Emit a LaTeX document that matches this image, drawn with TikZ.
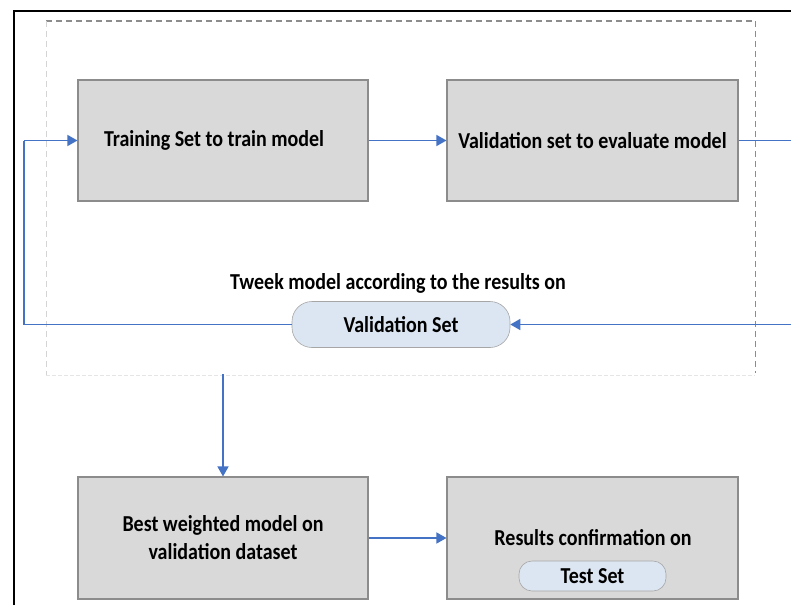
\documentclass[tikz,border=0pt]{standalone}
\usepackage{fontspec}
\usepackage{graphicx}
\setmainfont{Carlito}
\usetikzlibrary{arrows.meta}
\definecolor{flowblue}{HTML}{4472C4}
\definecolor{boxfill}{HTML}{D9D9D9}
\definecolor{boxline}{HTML}{8C8C8C}
\definecolor{pillfill}{HTML}{DCE6F2}
\definecolor{dashdark}{HTML}{8C8C8C}
\definecolor{dashlight}{HTML}{D4D4D4}
\newcommand{\tall}[1]{\scalebox{1}[1.14]{#1}}
\begin{document}
\begin{tikzpicture}[x=1pt,y=-1pt,
  txt/.style={font=\fontsize{20}{28}\selectfont\bfseries, text=black, inner sep=0pt},
  procbox/.style={draw=boxline, fill=boxfill, line width=1.1pt, minimum width=290pt, minimum height=121pt, inner sep=0pt, txt},
  pill/.style={draw=gray!70, fill=pillfill, line width=0.6pt, rounded corners=16pt, inner sep=0pt, txt},
  flow/.style={draw=flowblue, line width=1.4pt},
  arr/.style={flow, -{Triangle[length=10pt,width=11pt]}}
]
\useasboundingbox (0,0) rectangle (791,605);
\fill[white] (0,0) rectangle (791,605);

% outer black frame
\draw[black, line width=1.6pt] (14,605) -- (14,11) -- (791,11);

% dashed frame
\draw[dashdark, line width=1.2pt, dash pattern=on 6pt off 4pt] (46,21) -- (755,21);
\draw[dashdark, line width=0.7pt, dash pattern=on 6pt off 4pt] (755,21) -- (755,373);
\draw[dashlight, line width=0.7pt, dash pattern=on 6pt off 4pt] (46,21) -- (46,375);
\draw[dashlight!60, line width=0.7pt, dash pattern=on 4pt off 2pt] (46,375) -- (755,375);

% boxes
\node[procbox] (train) at (223,140.5) {\tall{Training Set to train model}\hspace*{18pt}};
\node[procbox, minimum width=291pt] (valid) at (592.5,140.5) {\tall{Validation set to evaluate model}};
\node[procbox, minimum height=122pt, align=center] (best) at (223,538) {\tall{Best weighted model on}\\\tall{validation dataset}};
\node[procbox, minimum width=291pt, minimum height=122pt] (res) at (592.5,538) {};
\node[txt] (restxt) at (593,538) {\tall{Results confirmation on}};
\node[pill, minimum width=147pt, minimum height=30pt, rounded corners=13pt] (test) at (592.5,576) {\tall{Test Set}};

% tweak label and pill
\node[txt] (tweak) at (398,283) {\tall{Tweek model according to the results on}};
\node[pill, minimum width=218pt, minimum height=46pt, rounded corners=20pt] (vs) at (401,324.5) {\tall{Validation Set}};

% coordinates for free ends
\coordinate (rt) at (791,140.5);
\coordinate (rb) at (791,324.5);
\coordinate (lf) at (24,140.5);
\coordinate (vt) at (223,374);

% connectors
\draw[arr] (train.east) -- (valid.west);
\draw[flow] (valid.east) -- (rt);
\draw[arr] (rb) -- (vs.east);
\draw[flow] (vs.west) -| (lf);
\draw[arr] (lf) -- (train.west);
\draw[arr] (vt) -- (best.north);
\draw[arr] (best.east) -- (res.west);
\end{tikzpicture}
\end{document}
